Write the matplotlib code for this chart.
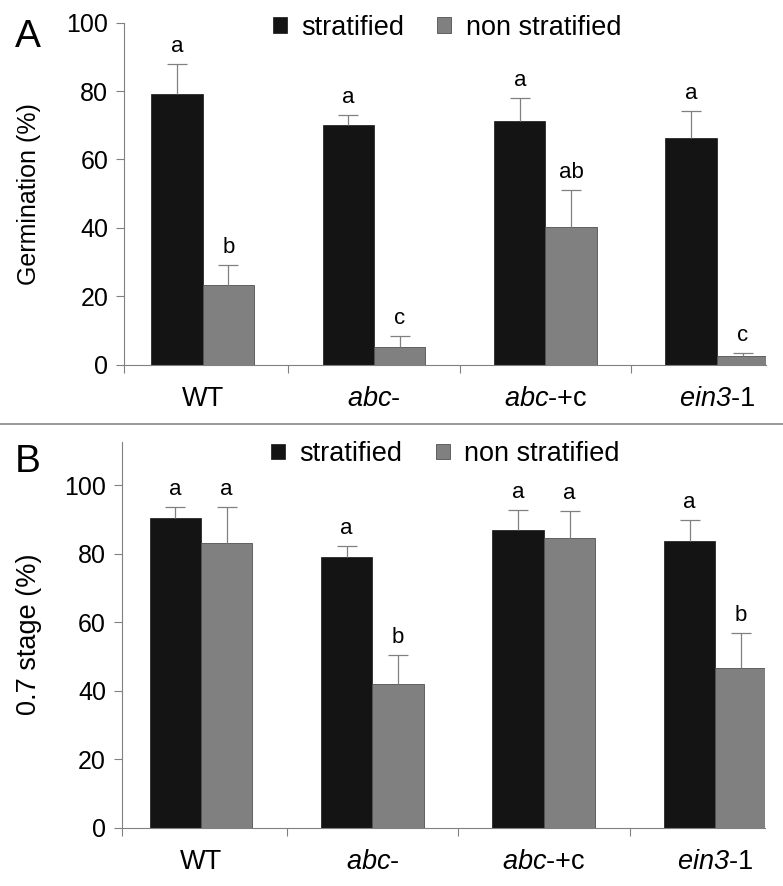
import numpy as np
import matplotlib
matplotlib.use('Agg')
import matplotlib.pyplot as plt
from matplotlib.lines import Line2D

plt.rcParams['font.family'] = 'Liberation Sans'
plt.rcParams['mathtext.fontset'] = 'custom'
plt.rcParams['mathtext.rm'] = 'Liberation Sans'
# sf usado como italico completo (inclui os digitos)
plt.rcParams['mathtext.sf'] = 'Liberation Sans:italic'

# genotypes (partes em italico via mathtext)
genotypes = ['WT', r'$\mathsf{abc}$-', r'$\mathsf{abc}$-+c', r'$\mathsf{ein3}$-1']

# painel A - germination (%)
germ_strat = [79.1, 70.2, 71.3, 66.2]
germ_strat_err = [8.7, 2.8, 6.6, 8.1]
germ_non = [23.3, 5.3, 40.2, 2.5]
germ_non_err = [5.8, 3.2, 10.9, 1.0]
germ_let_strat = ['a', 'a', 'a', 'a']
germ_let_non = ['b', 'c', 'ab', 'c']

# painel B - 0.7 stage (%)
stage_strat = [90.5, 79.0, 86.9, 83.7]
stage_strat_err = [3.0, 3.3, 5.8, 6.2]
stage_non = [83.1, 41.9, 84.7, 46.6]
stage_non_err = [10.4, 8.5, 7.9, 10.3]
stage_let_strat = ['a', 'a', 'a', 'a']
stage_let_non = ['a', 'b', 'a', 'b']

PRETO = '#141414'
CINZA = '#808080'
EIXO = '#808080'
w = 0.3


def painel(ax, strat, strat_err, non, non_err, let_s, let_n, ylabel, ymax,
           xlim, leg_y, ylab_x, ylab_size):
    x = np.arange(len(genotypes))
    ekw = dict(ecolor=EIXO, elinewidth=0.9, capsize=7, capthick=0.9)
    b1 = ax.bar(x - w / 2, strat, w, color=PRETO, edgecolor=PRETO, linewidth=0.5,
                yerr=[[0] * len(strat), strat_err], error_kw=ekw, label='stratified')
    b2 = ax.bar(x + w / 2, non, w, color=CINZA, edgecolor='#505050', linewidth=0.6,
                yerr=[[0] * len(non), non_err], error_kw=ekw, label='non stratified')
    # esconder o cap de baixo (so barra de erro para cima)
    for b in (b1, b2):
        b.errorbar.lines[1][0].set_visible(False)

    # letras de significancia
    for i in range(len(x)):
        ax.annotate(let_s[i], (x[i] - w / 2, strat[i] + strat_err[i]),
                    xytext=(0, 5), textcoords='offset points',
                    ha='center', va='bottom', fontsize=16)
        ax.annotate(let_n[i], (x[i] + w / 2, non[i] + non_err[i]),
                    xytext=(0, 5), textcoords='offset points',
                    ha='center', va='bottom', fontsize=16)

    ax.set_xlim(*xlim)
    ax.set_ylim(0, ymax)
    ax.set_yticks([0, 20, 40, 60, 80, 100])
    ax.tick_params(axis='y', length=5.5, width=0.8, color=EIXO, pad=6,
                   labelsize=18)

    ax.set_xticks([xlim[0], 0.5, 1.5, 2.5])
    ax.set_xticklabels([''] * 4)
    ax.set_xticks(x, genotypes, minor=True)
    ax.tick_params(axis='x', which='major', length=6, width=0.8, color=EIXO)
    ax.tick_params(axis='x', which='minor', length=0, pad=15, labelsize=19.5)

    for s in ['top', 'right']:
        ax.spines[s].set_visible(False)
    for s in ['left', 'bottom']:
        ax.spines[s].set_color(EIXO)
        ax.spines[s].set_linewidth(0.8)

    ax.set_ylabel(ylabel, fontsize=ylab_size)
    ax.yaxis.set_label_coords(ylab_x, 0.5)

    ax.legend(loc='center', bbox_to_anchor=(0.503, leg_y), ncol=2,
              frameon=False, fontsize=19.5, handlelength=0.52,
              handleheight=0.52, handletextpad=0.53, columnspacing=1.22,
              borderpad=0, borderaxespad=0)


fig = plt.figure(figsize=(7.83, 8.86), dpi=100)
axA = fig.add_axes([0.1587, 0.5884, 0.8195, 0.386])
axB = fig.add_axes([0.1558, 0.0658, 0.8212, 0.4357])

painel(axA, germ_strat, germ_strat_err, germ_non, germ_non_err,
       germ_let_strat, germ_let_non, 'Germination (%)', 100,
       (-0.457, 3.286), 0.985, -0.129, 18)
painel(axB, stage_strat, stage_strat_err, stage_non, stage_non_err,
       stage_let_strat, stage_let_non, '0.7 stage (%)', 112.7,
       (-0.461, 3.29), 0.9676, -0.125, 19.5)

fig.text(15 / 783, (886 - 47) / 886, 'A', fontsize=28, va='baseline')
fig.text(15 / 783, (886 - 471.7) / 886, 'B', fontsize=28, va='baseline')

# linha separadora entre os paineis
fig.add_artist(Line2D([0, 1], [0.5211, 0.5211], color='#888888', lw=1.2,
                      transform=fig.transFigure))

plt.savefig('out.png', dpi=100)
